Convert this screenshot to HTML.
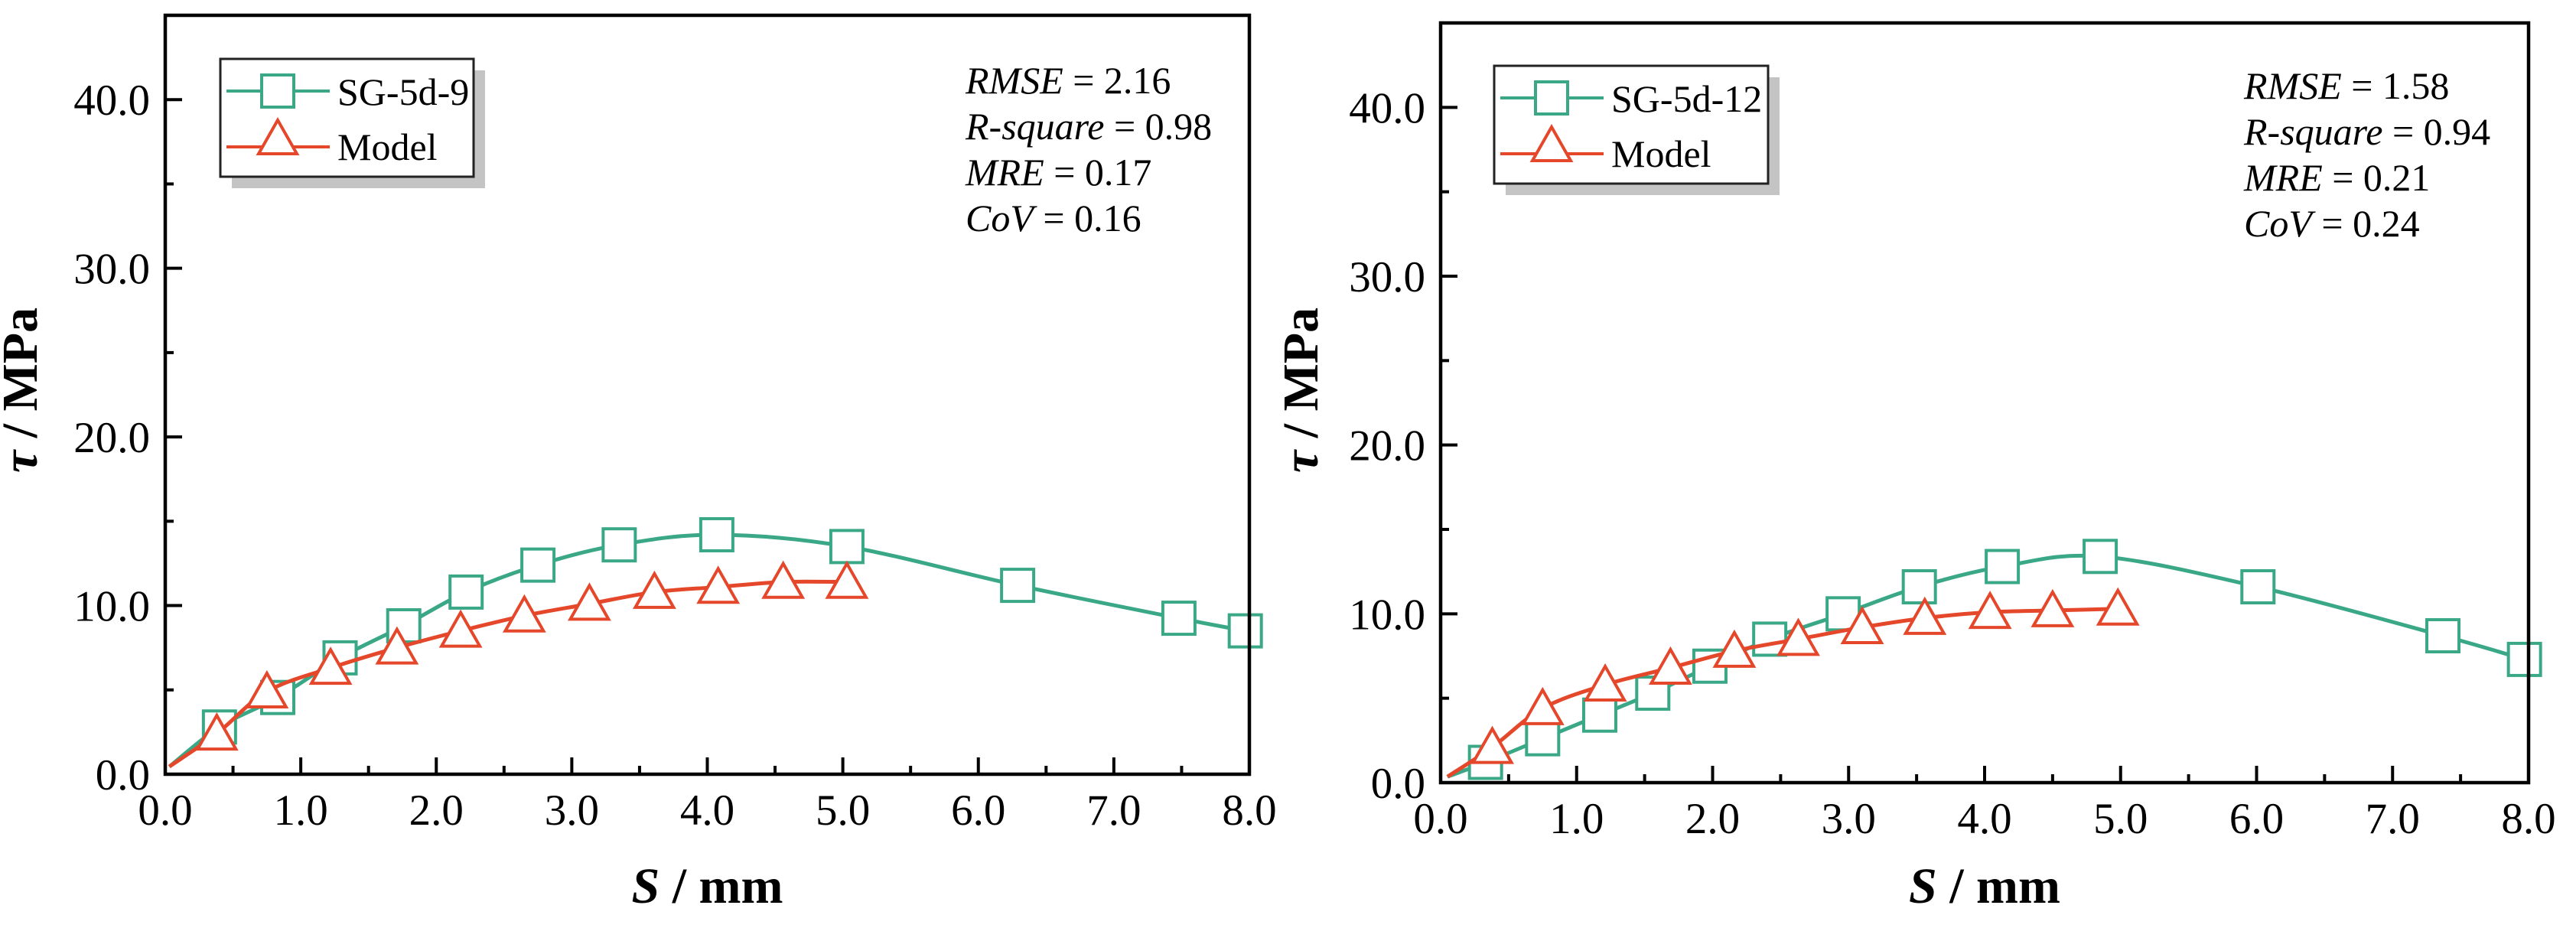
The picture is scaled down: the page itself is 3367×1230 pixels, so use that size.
<!DOCTYPE html>
<html><head><meta charset="utf-8"><style>
html,body{margin:0;padding:0;background:#fff;width:3367px;height:1230px;overflow:hidden}
svg text{font-family:"Liberation Serif",serif;fill:#000}
</style></head><body>
<svg id="fig" width="3367" height="1230" xmlns="http://www.w3.org/2000/svg"></svg>
<script>
const xTicks=[0,1,2,3,4,5,6,7,8];
const yTicks=[0,10,20,30,40];
const aExpX=[0.03,0.40,0.83,1.29,1.76,2.22,2.75,3.35,4.07,5.03,6.29,7.48,7.97];
const aExpY=[0.45,2.8,4.55,6.9,8.8,10.8,12.4,13.6,14.2,13.5,11.2,9.25,8.5];
const aModX=[0.03,0.38,0.75,1.22,1.71,2.18,2.65,3.13,3.61,4.08,4.56,5.03];
const aModY=[0.45,2.4,4.9,6.3,7.5,8.5,9.4,10.1,10.8,11.1,11.4,11.4];
const bExpX=[0.05,0.33,0.75,1.17,1.56,1.98,2.42,2.96,3.52,4.13,4.85,6.01,7.37,7.97];
const bExpY=[0.35,1.2,2.6,4.0,5.3,6.9,8.5,10.0,11.6,12.8,13.4,11.6,8.7,7.3];
const bModX=[0.05,0.38,0.75,1.21,1.69,2.16,2.63,3.10,3.56,4.04,4.50,4.98];
const bModY=[0.35,2.1,4.4,5.8,6.8,7.8,8.5,9.2,9.75,10.1,10.2,10.3];
const aStats=["RMSE|= 2.16","R-square|= 0.98","MRE|= 0.17","CoV|= 0.16"];
const bStats=["RMSE|= 1.58","R-square|= 0.94","MRE|= 0.21","CoV|= 0.24"];

const NS="http://www.w3.org/2000/svg";
const svg=document.getElementById('fig');
function mk(tag,attrs,parent,txt){const e=document.createElementNS(NS,tag);for(const k in attrs)e.setAttribute(k,attrs[k]);if(txt!==undefined)e.textContent=txt;(parent||svg).appendChild(e);return e;}
const GREEN="#3aa886",RED="#e5472b";
function smooth(pts){let d="M"+pts[0][0]+","+pts[0][1];for(let i=0;i<pts.length-1;i++){const p0=pts[Math.max(0,i-1)],p1=pts[i],p2=pts[i+1],p3=pts[Math.min(pts.length-1,i+2)];const c1x=p1[0]+(p2[0]-p0[0])/6,c1y=p1[1]+(p2[1]-p0[1])/6,c2x=p2[0]-(p3[0]-p1[0])/6,c2y=p2[1]-(p3[1]-p1[1])/6;d+=" C"+c1x+","+c1y+" "+c2x+","+c2y+" "+p2[0]+","+p2[1];}return d;}
function square(g,cx,cy){return mk('rect',{x:cx-21,y:cy-21,width:42,height:42,fill:'#fff',stroke:GREEN,'stroke-width':4},g);}
function tri(g,cx,cy){return mk('polygon',{points:(cx)+","+(cy-28)+" "+(cx-25)+","+(cy+16)+" "+(cx+25)+","+(cy+16),fill:'#fff',stroke:RED,'stroke-width':4},g);}

function panel(o){
  const g=mk('g',{});
  
  
  const X=v=>o.L+(o.R-o.L)*v/8, Y=v=>o.B-(o.B-o.T)*v/45;
  const eg=mk('g',{},g);
  const ep=o.ex.map((v,i)=>[X(v),Y(o.ey[i])]);
  mk('path',{d:smooth(ep),fill:'none',stroke:GREEN,'stroke-width':5},eg);
  ep.forEach((p,i)=>{if(i>0){const s=square(eg,p[0],p[1]);}});
  const mg=mk('g',{},g);
  const mp=o.mx.map((v,i)=>[X(v),Y(o.my[i])]);
  mk('path',{d:smooth(mp),fill:'none',stroke:RED,'stroke-width':5},mg);
  mp.forEach((p,i)=>{if(i>0){const t=tri(mg,p[0],p[1]+4);}});
  const fr=mk('rect',{x:o.L,y:o.T,width:o.R-o.L,height:o.B-o.T,fill:'none',stroke:'#000','stroke-width':4.5},g);
  
  for(let v=0;v<=8;v+=0.5){const major=Number.isInteger(v);mk('line',{x1:X(v),x2:X(v),y1:o.B,y2:o.B-(major?22:11),stroke:'#000','stroke-width':4},g);}
  xTicks.forEach(v=>{const t=mk('text',{x:X(v),y:o.B+66,'font-size':57,'text-anchor':'middle'},g,v.toFixed(1));});
  for(let v=0;v<=45;v+=5){const major=v%10===0;mk('line',{x1:o.L,x2:o.L+(major?22:11),y1:Y(v),y2:Y(v),stroke:'#000','stroke-width':4},g);}
  yTicks.forEach(v=>{const t=mk('text',{x:o.L-20,y:Y(v)+20,'font-size':57,'text-anchor':'end'},g,v.toFixed(1));});
  const xt=mk('text',{x:(o.L+o.R)/2,y:1180,'font-size':66,'font-weight':'bold','text-anchor':'middle'},g);
  
  mk('tspan',{'font-style':'italic'},xt,'S');mk('tspan',{},xt,' / mm');
  const yt=mk('text',{x:0,y:0,'font-size':66,'font-weight':'bold','text-anchor':'middle',transform:'translate('+o.yx+',510) rotate(-90)'},g);
  
  mk('tspan',{'font-style':'italic'},yt,'τ');mk('tspan',{},yt,' / MPa');
  const lg=mk('g',{},g);
  const lx=o.lx,ly=o.ly,lw=o.lw,lh=154;
  mk('rect',{x:lx+15,y:ly+15,width:lw,height:lh,fill:'#c4c4c4'},lg);
  mk('rect',{x:lx,y:ly,width:lw,height:lh,fill:'#fff',stroke:'#222','stroke-width':3},lg);
  const e1=mk('g',{},lg);
  mk('line',{x1:lx+8,x2:lx+143,y1:ly+42,y2:ly+42,stroke:GREEN,'stroke-width':4},e1);square(e1,lx+75,ly+42);
  mk('text',{x:lx+153,y:ly+60,'font-size':50},e1,o.label);
  const e2=mk('g',{},lg);
  mk('line',{x1:lx+8,x2:lx+143,y1:ly+115,y2:ly+115,stroke:RED,'stroke-width':4},e2);tri(e2,lx+75,ly+108);
  mk('text',{x:lx+153,y:ly+132,'font-size':50},e2,'Model');
  o.stats.forEach((s,i)=>{const [a,b]=s.split('|');const t=mk('text',{x:o.sx,y:o.sy+i*60,'font-size':50},g);
    
    mk('tspan',{'font-style':'italic'},t,a);mk('tspan',{},t,' '+b);});
}
panel({name:'chart-sg-5d-9',L:216,R:1633,T:20,B:1012,ex:aExpX,ey:aExpY,mx:aModX,my:aModY,label:'SG-5d-9',lx:288,ly:77,lw:331,stats:aStats,sx:1262,sy:122,yx:48});
panel({name:'chart-sg-5d-12',L:1883,R:3305,T:30,B:1023,ex:bExpX,ey:bExpY,mx:bModX,my:bModY,label:'SG-5d-12',lx:1953,ly:86,lw:358,stats:bStats,sx:2933,sy:129,yx:1722});
</script>
</body></html>
